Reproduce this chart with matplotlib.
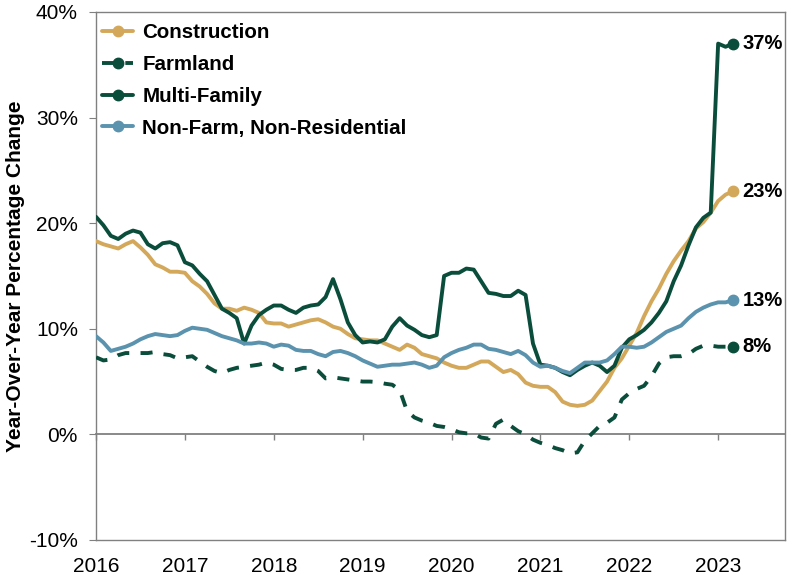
import numpy as np
import matplotlib
matplotlib.use("Agg")
import matplotlib.pyplot as plt
from matplotlib.legend_handler import HandlerLine2D
from matplotlib.ticker import FuncFormatter

plt.rcParams['font.family'] = ['Liberation Sans', 'DejaVu Sans']

# monthly series, Jan 2016 .. Mar 2023 (year-over-year % change)
start_year = 2016
construction = [18.3, 18.0, 17.8, 17.6, 18.0, 18.3, 17.7, 17.0, 16.1, 15.8, 15.4, 15.4,
                15.3, 14.5, 14.0, 13.3, 12.4, 11.9, 11.9, 11.7, 12.0, 11.8, 11.5, 10.6,
                10.5, 10.5, 10.2, 10.4, 10.6, 10.8, 10.9, 10.6, 10.2, 10.0, 9.5, 9.1,
                9.0, 8.9, 8.9, 8.6, 8.3, 8.0, 8.5, 8.2, 7.6, 7.4, 7.2, 6.8,
                6.5, 6.3, 6.3, 6.6, 6.9, 6.9, 6.4, 5.9, 6.1, 5.7, 4.9, 4.6,
                4.5, 4.5, 4.0, 3.1, 2.8, 2.7, 2.8, 3.2, 4.1, 5.0, 6.3, 7.2,
                8.4, 9.6, 11.2, 12.6, 13.8, 15.2, 16.4, 17.4, 18.3, 19.5, 20.1, 21.0,
                22.1, 22.7, 23.0]
farmland = [7.3, 7.0, 7.1, 7.5, 7.7, 7.7, 7.7, 7.7, 7.8, 7.6, 7.5, 7.2,
            7.3, 7.4, 6.9, 6.4, 6.0, 5.8, 6.1, 6.3, 6.4, 6.5, 6.6, 6.8,
            6.6, 6.2, 6.1, 6.1, 6.3, 6.3, 6.0, 5.3, 5.4, 5.3, 5.2, 5.1,
            5.0, 5.0, 4.95, 4.8, 4.7, 4.2, 2.2, 1.6, 1.3, 1.1, 0.8, 0.7,
            0.5, 0.2, 0.1, 0.1, -0.3, -0.4, 1.0, 1.4, 0.8, 0.3, 0.0, -0.5,
            -0.8, -1.0, -1.3, -1.5, -1.8, -1.7, -0.6, 0.1, 0.8, 1.1, 1.6, 3.3,
            3.9, 4.3, 4.6, 5.5, 6.7, 7.3, 7.4, 7.4, 7.6, 8.1, 8.4, 8.4,
            8.3, 8.3, 8.3]
multi_family = [20.6, 19.8, 18.8, 18.5, 19.0, 19.3, 19.1, 18.0, 17.6, 18.1, 18.2, 17.9,
                16.3, 16.0, 15.2, 14.5, 13.2, 11.9, 11.5, 11.0, 8.6, 10.3, 11.3, 11.8,
                12.2, 12.2, 11.8, 11.5, 12.0, 12.2, 12.3, 13.0, 14.7, 12.8, 10.6, 9.4,
                8.7, 8.8, 8.7, 9.0, 10.2, 11.0, 10.3, 9.9, 9.4, 9.2, 9.4, 15.0,
                15.3, 15.3, 15.7, 15.6, 14.5, 13.4, 13.3, 13.1, 13.1, 13.6, 13.2, 8.6,
                6.6, 6.5, 6.3, 5.9, 5.6, 6.1, 6.5, 6.8, 6.5, 5.9, 6.5, 8.2,
                9.0, 9.4, 9.9, 10.6, 11.5, 12.6, 14.5, 16.0, 17.9, 19.6, 20.5, 21.0,
                37.0, 36.7, 37.0]
non_farm = [9.3, 8.7, 7.9, 8.1, 8.3, 8.6, 9.0, 9.3, 9.5, 9.4, 9.3, 9.4,
            9.8, 10.1, 10.0, 9.9, 9.6, 9.3, 9.1, 8.9, 8.6, 8.6, 8.7, 8.6,
            8.3, 8.5, 8.4, 8.0, 7.9, 7.9, 7.6, 7.4, 7.8, 7.9, 7.7, 7.4,
            7.0, 6.7, 6.4, 6.5, 6.6, 6.6, 6.7, 6.8, 6.6, 6.3, 6.5, 7.3,
            7.7, 8.0, 8.2, 8.5, 8.5, 8.1, 8.0, 7.8, 7.6, 7.9, 7.5, 6.8,
            6.4, 6.5, 6.3, 6.0, 5.8, 6.3, 6.8, 6.8, 6.8, 7.0, 7.6, 8.3,
            8.3, 8.2, 8.3, 8.7, 9.2, 9.7, 10.0, 10.3, 11.0, 11.6, 12.0, 12.3,
            12.5, 12.5, 12.7]
years = [2016, 2017, 2018, 2019, 2020, 2021, 2022, 2023]

x = start_year + np.arange(len(construction)) / 12

tan = '#D4A85B'
green = '#0B4D3B'
blue = '#5B93AE'
grey = '#808080'


class EndMarkerHandler(HandlerLine2D):
    # marker sits at the right end of the legend line
    def get_xdata(self, legend, xdescent, ydescent, width, height, fontsize):
        xdata = np.array([-xdescent, -xdescent + width])
        return xdata, xdata[-1:]


fig = plt.figure(figsize=(8, 5.79), dpi=100)
ax = fig.add_axes([0.12, 0.0674, 0.861, 0.912])

series = [
    ('Construction', construction, tan, '-'),
    ('Farmland', farmland, green, (0, (3.1, 2.9))),
    ('Multi-Family', multi_family, green, '-'),
    ('Non-Farm, Non-Residential', non_farm, blue, '-'),
]
handles = []
for name, vals, col, ls in series:
    ln, = ax.plot(x, vals, color=col, lw=2.8, ls=ls, marker='o', markevery=[-1],
                  markersize=7.5, label=name, solid_capstyle='round', zorder=3)
    handles.append(ln)
    ax.annotate(f"{vals[-1]:.0f}%", xy=(x[-1], vals[-1]), xytext=(7, 0),
                textcoords='offset points', va='center', ha='left',
                fontsize=14.5, fontweight='bold')

ax.set_xlim(2016, 2023.75)
ax.set_ylim(-10, 40)
ax.set_yticks(range(-10, 41, 10))
ax.yaxis.set_major_formatter(FuncFormatter(lambda v, p: f"{v:.0f}%"))
ax.tick_params(axis='y', direction='out', length=5, color=grey, labelsize=15, pad=8)

ax.set_xticks(years)
ax.set_xticklabels([str(y) for y in years])
ax.tick_params(axis='x', length=0, labelsize=15, pad=12)

for s in ax.spines.values():
    s.set_color(grey)
    s.set_linewidth(1.0)

# zero line with year tick marks
zero_axis = ax.secondary_xaxis(0.2)
zero_axis.set_xticks(years)
zero_axis.tick_params(axis='x', direction='out', length=4.5, color=grey,
                      labelbottom=False, width=1.0)
zero_axis.spines['bottom'].set_color(grey)
zero_axis.spines['bottom'].set_linewidth(1.3)

ax.set_ylabel('Year-Over-Year Percentage Change', fontsize=15, fontweight='bold')
ax.yaxis.set_label_coords(-0.103, 0.5)

ax.legend(handles=handles, handler_map={h: EndMarkerHandler(numpoints=1) for h in handles},
          loc='upper left', bbox_to_anchor=(0.0, 0.99), frameon=False,
          prop={'weight': 'bold', 'size': 14.8}, handlelength=1.5, handletextpad=0.45,
          labelspacing=0.62, borderaxespad=0.0, borderpad=0.3)

plt.savefig('out.png', dpi=100)
